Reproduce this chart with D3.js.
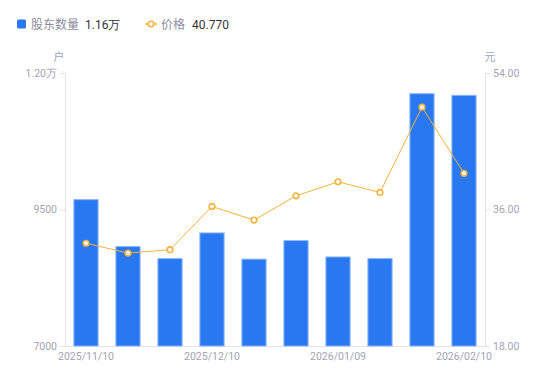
<!DOCTYPE html>
<html><head><meta charset="utf-8">
<script src="https://cdn.jsdelivr.net/npm/d3@7/dist/d3.min.js"></script>
<style>body{margin:0;background:#fff;font-family:"Noto Sans CJK SC","Noto Sans",sans-serif;}</style>
</head><body><svg id="c" width="550" height="381"></svg>
<script>
const categories = ["2025/11/10","2025/11/20","2025/11/28","2025/12/10","2025/12/19","2025/12/31","2026/01/09","2026/01/20","2026/01/30","2026/02/10"];
const holders = [9690, 8830, 8610, 9080, 8600, 8940, 8640, 8610, 11630, 11600];
const prices = [31.55, 30.25, 30.70, 36.40, 34.60, 37.80, 39.65, 38.25, 49.50, 40.77];
const leftTicks = [7000, 9500, 12000];
const rightTicks = [18, 36, 54];
const shownLabels = ["2025/11/10","2025/12/10","2026/01/09","2026/02/10"];

const svg = d3.select("#c");
const L = 65, R = 485, T = 73, B = 346;
const axisColor = "#e3e3e8", labelColor = "#a3a3b3";
const x = d3.scaleBand().domain(categories).range([L, R]).paddingInner(0.4).paddingOuter(0.2);
const yL = d3.scaleLinear().domain([7000, 12000]).range([B, T]);
const yR = d3.scaleLinear().domain([18, 54]).range([B, T]);

// axes
const fmtL = v => v >= 10000 ? (v/10000).toFixed(2) + "万" : String(v);
const gL = svg.append("g").attr("transform", `translate(${L},0)`)
  .call(d3.axisLeft(yL).tickValues(leftTicks).tickFormat(fmtL).tickSize(5).tickPadding(3));
const gR = svg.append("g").attr("transform", `translate(${R},0)`)
  .call(d3.axisRight(yR).tickValues(rightTicks).tickFormat(d => d.toFixed(2)).tickSize(5).tickPadding(3));
const gB = svg.append("g").attr("transform", `translate(0,${B})`)
  .call(d3.axisBottom(x).tickValues(shownLabels).tickSize(0).tickPadding(7));
gB.select(".domain").attr("d", `M${L},0.5H${R}`);
[gL, gR, gB].forEach(g => {
  g.selectAll(".domain").attr("stroke", axisColor);
  g.selectAll(".tick line").attr("stroke", axisColor);
  g.selectAll("text").attr("fill", labelColor).style("font-family", "Roboto, 'Liberation Sans', sans-serif").style("font-size", "10.5px");
});

// units
svg.append("text").attr("x", 59).attr("y", 61).attr("text-anchor", "middle").attr("fill", labelColor).style("font-size", "11px").text("户");
svg.append("text").attr("x", 490).attr("y", 61).attr("text-anchor", "middle").attr("fill", labelColor).style("font-size", "11px").text("元");

// bars
svg.append("g").selectAll("rect").data(categories).join("rect")
  .attr("x", d => x(d) + 0.5).attr("width", x.bandwidth() - 1)
  .attr("y", (d, i) => yL(holders[i]) + 0.5).attr("height", (d, i) => B - yL(holders[i]) - 0.5)
  .attr("fill", "#2878f2").attr("stroke", "#8cb6f7").attr("stroke-width", 1);

// line
const cx = d => x(d) + x.bandwidth() / 2;
const lineColor = "#f7b23b";
svg.append("path").datum(categories)
  .attr("d", d3.line().x(cx).y((d, i) => yR(prices[i])))
  .attr("fill", "none").attr("stroke", lineColor).attr("stroke-width", 1);
svg.append("g").selectAll("circle").data(categories).join("circle")
  .attr("cx", cx).attr("cy", (d, i) => yR(prices[i])).attr("r", 2.8)
  .attr("fill", "#fff").attr("stroke", lineColor).attr("stroke-width", 1.6);

// legend
const lg = svg.append("g").style("font-size", "12px");
lg.append("rect").attr("x", 17).attr("y", 19.5).attr("width", 9).attr("height", 9).attr("rx", 1.5).attr("fill", "#2878f2");
lg.append("text").attr("x", 31).attr("y", 28.5).attr("fill", "#8c8c9c").text("股东数量");
lg.append("text").attr("x", 85).attr("y", 28.5).attr("fill", "#333").style("font-family", "Roboto, sans-serif").text("1.16万");
lg.append("line").attr("x1", 145).attr("x2", 157).attr("y1", 24).attr("y2", 24).attr("stroke", lineColor).attr("stroke-width", 1.5);
lg.append("circle").attr("cx", 151).attr("cy", 24).attr("r", 2.8).attr("fill", "#fff").attr("stroke", lineColor).attr("stroke-width", 1.6);
lg.append("text").attr("x", 161).attr("y", 28.5).attr("fill", "#8c8c9c").text("价格");
lg.append("text").attr("x", 192).attr("y", 28.5).attr("fill", "#333").style("font-family", "Roboto, sans-serif").text("40.770");
</script></body></html>
